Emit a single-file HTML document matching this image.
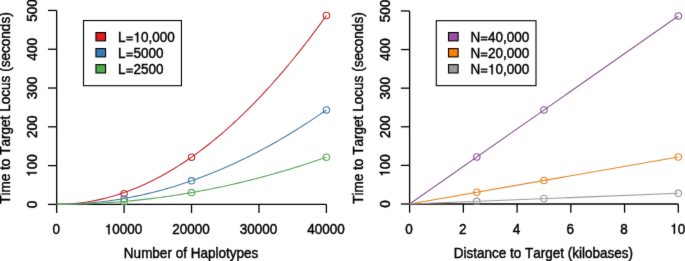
<!DOCTYPE html>
<html><head><meta charset="utf-8"><style>
html,body{margin:0;padding:0;background:#fff;}
svg{display:block;will-change:transform;}
.t{font-family:"Liberation Sans",sans-serif;font-size:13.5px;font-kerning:none;fill:#000;stroke:#000;stroke-width:0.42px;}
.o{fill:#000;stroke:#000;stroke-width:0.42px;}
</style></head><body>
<svg width="685" height="261" viewBox="0 0 685 261">
<defs><filter id="bl" x="0" y="0" width="685" height="261" filterUnits="userSpaceOnUse" color-interpolation-filters="sRGB"><feConvolveMatrix order="3" kernelMatrix="0.02 0.07 0.02 0.07 1.0 0.07 0.02 0.07 0.02" edgeMode="duplicate" preserveAlpha="true"/></filter></defs>
<rect width="685" height="261" fill="#fff"/>
<g filter="url(#bl)"><rect width="685" height="261" fill="#fff"/>
<g stroke="#000" stroke-width="1.3" fill="none">
<line x1="56.65" y1="10.45" x2="56.65" y2="204.4" />
<line x1="47.95" y1="204.40" x2="56.65" y2="204.40" />
<line x1="47.95" y1="165.61" x2="56.65" y2="165.61" />
<line x1="47.95" y1="126.82" x2="56.65" y2="126.82" />
<line x1="47.95" y1="88.03" x2="56.65" y2="88.03" />
<line x1="47.95" y1="49.24" x2="56.65" y2="49.24" />
<line x1="47.95" y1="10.45" x2="56.65" y2="10.45" />
<line x1="56.65" y1="204.4" x2="326.4" y2="204.4" />
<line x1="56.65" y1="204.4" x2="56.65" y2="213.1" />
<line x1="124.09" y1="204.4" x2="124.09" y2="213.1" />
<line x1="191.53" y1="204.4" x2="191.53" y2="213.1" />
<line x1="258.96" y1="204.4" x2="258.96" y2="213.1" />
<line x1="326.40" y1="204.4" x2="326.40" y2="213.1" />
</g>
<g transform="translate(36.65,204.40) rotate(-90) scale(1.0000,1.0440)"><text class="t" x="-3.754" y="0">0</text></g>
<g transform="translate(36.65,165.61) rotate(-90) scale(1.0000,1.0440)"><text class="t" x="-3.754" y="0">00</text><path class="o" d="M-6.578,0.000 L-7.766,0.000 L-7.766,-6.899 L-9.831,-6.899 L-9.831,-7.776 C-8.360,-7.951 -7.901,-8.181 -7.563,-9.572 L-6.578,-9.572 Z"/></g>
<g transform="translate(36.65,126.82) rotate(-90) scale(1.0000,1.0440)"><text class="t" x="-11.262" y="0">200</text></g>
<g transform="translate(36.65,88.03) rotate(-90) scale(1.0000,1.0440)"><text class="t" x="-11.262" y="0">300</text></g>
<g transform="translate(36.65,49.24) rotate(-90) scale(1.0000,1.0440)"><text class="t" x="-11.262" y="0">400</text></g>
<g transform="translate(36.65,10.45) rotate(-90) scale(1.0000,1.0440)"><text class="t" x="-11.262" y="0">500</text></g>
<g transform="translate(56.15,234.20) scale(1.0000,1.0440)"><text class="t" x="-3.754" y="0">0</text></g>
<g transform="translate(123.59,234.20) scale(1.0000,1.0440)"><text class="t" x="-11.262" y="0">0000</text><path class="o" d="M-14.086,0.000 L-15.274,0.000 L-15.274,-6.899 L-17.339,-6.899 L-17.339,-7.776 C-15.868,-7.951 -15.409,-8.181 -15.071,-9.572 L-14.086,-9.572 Z"/></g>
<g transform="translate(191.03,234.20) scale(1.0000,1.0440)"><text class="t" x="-18.770" y="0">20000</text></g>
<g transform="translate(258.46,234.20) scale(1.0000,1.0440)"><text class="t" x="-18.770" y="0">30000</text></g>
<g transform="translate(325.90,234.20) scale(1.0000,1.0440)"><text class="t" x="-18.770" y="0">40000</text></g>
<g transform="translate(191.02,258.20) scale(1.0000,1.0440)"><text class="t" x="-67.157" y="0">Number of Haplotypes</text></g>
<g transform="translate(10.35,108.00) rotate(-90) scale(1.0060,1.0440)"><text class="t" x="-95.288" y="0">Time to Target Locus (seconds)</text></g>
<g stroke="#000" stroke-width="1.3" fill="none">
<line x1="409.6" y1="10.95" x2="409.6" y2="204.0" />
<line x1="400.90000000000003" y1="204.00" x2="409.6" y2="204.00" />
<line x1="400.90000000000003" y1="165.39" x2="409.6" y2="165.39" />
<line x1="400.90000000000003" y1="126.78" x2="409.6" y2="126.78" />
<line x1="400.90000000000003" y1="88.17" x2="409.6" y2="88.17" />
<line x1="400.90000000000003" y1="49.56" x2="409.6" y2="49.56" />
<line x1="400.90000000000003" y1="10.95" x2="409.6" y2="10.95" />
<line x1="409.6" y1="204.0" x2="678.3" y2="204.0" />
<line x1="409.60" y1="204.0" x2="409.60" y2="212.7" />
<line x1="463.34" y1="204.0" x2="463.34" y2="212.7" />
<line x1="517.08" y1="204.0" x2="517.08" y2="212.7" />
<line x1="570.82" y1="204.0" x2="570.82" y2="212.7" />
<line x1="624.56" y1="204.0" x2="624.56" y2="212.7" />
<line x1="678.30" y1="204.0" x2="678.30" y2="212.7" />
</g>
<g transform="translate(389.60,204.00) rotate(-90) scale(1.0000,1.0440)"><text class="t" x="-3.754" y="0">0</text></g>
<g transform="translate(389.60,165.39) rotate(-90) scale(1.0000,1.0440)"><text class="t" x="-3.754" y="0">00</text><path class="o" d="M-6.578,0.000 L-7.766,0.000 L-7.766,-6.899 L-9.831,-6.899 L-9.831,-7.776 C-8.360,-7.951 -7.901,-8.181 -7.563,-9.572 L-6.578,-9.572 Z"/></g>
<g transform="translate(389.60,126.78) rotate(-90) scale(1.0000,1.0440)"><text class="t" x="-11.262" y="0">200</text></g>
<g transform="translate(389.60,88.17) rotate(-90) scale(1.0000,1.0440)"><text class="t" x="-11.262" y="0">300</text></g>
<g transform="translate(389.60,49.56) rotate(-90) scale(1.0000,1.0440)"><text class="t" x="-11.262" y="0">400</text></g>
<g transform="translate(389.60,10.95) rotate(-90) scale(1.0000,1.0440)"><text class="t" x="-11.262" y="0">500</text></g>
<g transform="translate(409.10,233.80) scale(1.0000,1.0440)"><text class="t" x="-3.754" y="0">0</text></g>
<g transform="translate(462.84,233.80) scale(1.0000,1.0440)"><text class="t" x="-3.754" y="0">2</text></g>
<g transform="translate(516.58,233.80) scale(1.0000,1.0440)"><text class="t" x="-3.754" y="0">4</text></g>
<g transform="translate(570.32,233.80) scale(1.0000,1.0440)"><text class="t" x="-3.754" y="0">6</text></g>
<g transform="translate(624.06,233.80) scale(1.0000,1.0440)"><text class="t" x="-3.754" y="0">8</text></g>
<g transform="translate(677.80,233.80) scale(1.0000,1.0440)"><text class="t" x="0.000" y="0">0</text><path class="o" d="M-2.824,0.000 L-4.012,0.000 L-4.012,-6.899 L-6.077,-6.899 L-6.077,-7.776 C-4.606,-7.951 -4.147,-8.181 -3.809,-9.572 L-2.824,-9.572 Z"/></g>
<g transform="translate(543.45,257.80) scale(1.0000,1.0440)"><text class="t" x="-89.662" y="0">Distance to Target (kilobases)</text></g>
<g transform="translate(363.30,108.00) rotate(-90) scale(1.0060,1.0440)"><text class="t" x="-95.288" y="0">Time to Target Locus (seconds)</text></g>
<g stroke-width="1.1" fill="none">
<polyline points="56.65,204.40 58.90,204.39 61.15,204.35 63.39,204.28 65.64,204.19 67.89,204.07 70.14,203.93 72.39,203.76 74.63,203.56 76.88,203.34 79.13,203.09 81.38,202.81 83.62,202.51 85.87,202.18 88.12,201.83 90.37,201.45 92.62,201.04 94.86,200.61 97.11,200.15 99.36,199.66 101.61,199.15 103.86,198.61 106.10,198.05 108.35,197.46 110.60,196.84 112.85,196.20 115.10,195.53 117.34,194.84 119.59,194.12 121.84,193.37 124.09,192.59 126.34,191.79 128.58,190.97 130.83,190.11 133.08,189.23 135.33,188.33 137.57,187.40 139.82,186.44 142.07,185.46 144.32,184.45 146.57,183.41 148.81,182.35 151.06,181.26 153.31,180.14 155.56,179.00 157.81,177.83 160.05,176.64 162.30,175.42 164.55,174.17 166.80,172.90 169.05,171.60 171.29,170.28 173.54,168.93 175.79,167.55 178.04,166.15 180.29,164.72 182.53,163.26 184.78,161.78 187.03,160.27 189.28,158.73 191.53,157.17 193.77,155.59 196.02,153.97 198.27,152.33 200.52,150.67 202.76,148.97 205.01,147.26 207.26,145.51 209.51,143.74 211.76,141.94 214.00,140.12 216.25,138.27 218.50,136.39 220.75,134.49 223.00,132.56 225.24,130.61 227.49,128.63 229.74,126.62 231.99,124.59 234.24,122.53 236.48,120.44 238.73,118.33 240.98,116.19 243.23,114.03 245.47,111.84 247.72,109.62 249.97,107.38 252.22,105.11 254.47,102.81 256.71,100.49 258.96,98.14 261.21,95.77 263.46,93.36 265.71,90.94 267.95,88.48 270.20,86.00 272.45,83.50 274.70,80.97 276.95,78.41 279.19,75.82 281.44,73.21 283.69,70.58 285.94,67.91 288.19,65.23 290.43,62.51 292.68,59.77 294.93,57.00 297.18,54.21 299.43,51.39 301.67,48.54 303.92,45.67 306.17,42.77 308.42,39.84 310.66,36.89 312.91,33.91 315.16,30.91 317.41,27.88 319.66,24.82 321.90,21.74 324.15,18.63 326.40,15.49" stroke="#C1292B" fill="none" />
<circle cx="124.09" cy="193.66" r="3.2" stroke="#C1292B" fill="none" />
<circle cx="191.53" cy="157.17" r="3.2" stroke="#C1292B" fill="none" />
<circle cx="326.40" cy="15.49" r="3.2" stroke="#C1292B" fill="none" />
<polyline points="56.65,204.40 58.90,204.39 61.15,204.37 63.39,204.34 65.64,204.30 67.89,204.24 70.14,204.16 72.39,204.08 74.63,203.98 76.88,203.87 79.13,203.74 81.38,203.61 83.62,203.46 85.87,203.29 88.12,203.11 90.37,202.92 92.62,202.72 94.86,202.50 97.11,202.27 99.36,202.03 101.61,201.78 103.86,201.51 106.10,201.23 108.35,200.93 110.60,200.62 112.85,200.30 115.10,199.97 117.34,199.62 119.59,199.26 121.84,198.88 124.09,198.50 126.34,198.10 128.58,197.68 130.83,197.26 133.08,196.82 135.33,196.36 137.57,195.90 139.82,195.42 142.07,194.93 144.32,194.42 146.57,193.91 148.81,193.37 151.06,192.83 153.31,192.27 155.56,191.70 157.81,191.12 160.05,190.52 162.30,189.91 164.55,189.29 166.80,188.65 169.05,188.00 171.29,187.34 173.54,186.66 175.79,185.97 178.04,185.27 180.29,184.56 182.53,183.83 184.78,183.09 187.03,182.33 189.28,181.57 191.53,180.79 193.77,179.99 196.02,179.19 198.27,178.37 200.52,177.53 202.76,176.69 205.01,175.83 207.26,174.96 209.51,174.07 211.76,173.17 214.00,172.26 216.25,171.33 218.50,170.40 220.75,169.45 223.00,168.48 225.24,167.50 227.49,166.51 229.74,165.51 231.99,164.49 234.24,163.46 236.48,162.42 238.73,161.36 240.98,160.30 243.23,159.21 245.47,158.12 247.72,157.01 249.97,155.89 252.22,154.75 254.47,153.60 256.71,152.44 258.96,151.27 261.21,150.08 263.46,148.88 265.71,147.67 267.95,146.44 270.20,145.20 272.45,143.95 274.70,142.68 276.95,141.40 279.19,140.11 281.44,138.81 283.69,137.49 285.94,136.16 288.19,134.81 290.43,133.45 292.68,132.08 294.93,130.70 297.18,129.30 299.43,127.89 301.67,126.47 303.92,125.03 306.17,123.58 308.42,122.12 310.66,120.64 312.91,119.16 315.16,117.65 317.41,116.14 319.66,114.61 321.90,113.07 324.15,111.51 326.40,109.95" stroke="#457AA6" fill="none" />
<circle cx="124.09" cy="198.89" r="3.2" stroke="#457AA6" fill="none" />
<circle cx="191.53" cy="180.79" r="3.2" stroke="#457AA6" fill="none" />
<circle cx="326.40" cy="109.95" r="3.2" stroke="#457AA6" fill="none" />
<polyline points="56.65,204.40 58.90,204.40 61.15,204.39 63.39,204.37 65.64,204.35 67.89,204.32 70.14,204.28 72.39,204.24 74.63,204.19 76.88,204.13 79.13,204.07 81.38,204.00 83.62,203.93 85.87,203.85 88.12,203.76 90.37,203.66 92.62,203.56 94.86,203.45 97.11,203.34 99.36,203.22 101.61,203.09 103.86,202.95 106.10,202.81 108.35,202.67 110.60,202.51 112.85,202.35 115.10,202.18 117.34,202.01 119.59,201.83 121.84,201.64 124.09,201.45 126.34,201.25 128.58,201.04 130.83,200.83 133.08,200.61 135.33,200.38 137.57,200.15 139.82,199.91 142.07,199.66 144.32,199.41 146.57,199.15 148.81,198.89 151.06,198.61 153.31,198.34 155.56,198.05 157.81,197.76 160.05,197.46 162.30,197.16 164.55,196.84 166.80,196.53 169.05,196.20 171.29,195.87 173.54,195.53 175.79,195.19 178.04,194.84 180.29,194.48 182.53,194.12 184.78,193.74 187.03,193.37 189.28,192.98 191.53,192.59 193.77,192.20 196.02,191.79 198.27,191.38 200.52,190.97 202.76,190.54 205.01,190.11 207.26,189.68 209.51,189.23 211.76,188.79 214.00,188.33 216.25,187.87 218.50,187.40 220.75,186.92 223.00,186.44 225.24,185.95 227.49,185.46 229.74,184.96 231.99,184.45 234.24,183.93 236.48,183.41 238.73,182.88 240.98,182.35 243.23,181.81 245.47,181.26 247.72,180.70 249.97,180.14 252.22,179.58 254.47,179.00 256.71,178.42 258.96,177.83 261.21,177.24 263.46,176.64 265.71,176.03 267.95,175.42 270.20,174.80 272.45,174.17 274.70,173.54 276.95,172.90 279.19,172.26 281.44,171.60 283.69,170.94 285.94,170.28 288.19,169.61 290.43,168.93 292.68,168.24 294.93,167.55 297.18,166.85 299.43,166.15 301.67,165.43 303.92,164.72 306.17,163.99 308.42,163.26 310.66,162.52 312.91,161.78 315.16,161.03 317.41,160.27 319.66,159.50 321.90,158.73 324.15,157.96 326.40,157.17" stroke="#5BA559" fill="none" />
<circle cx="124.09" cy="201.72" r="3.2" stroke="#5BA559" fill="none" />
<circle cx="191.53" cy="192.59" r="3.2" stroke="#5BA559" fill="none" />
<circle cx="326.40" cy="157.17" r="3.2" stroke="#5BA559" fill="none" />
<polyline points="409.60,204.00 678.30,15.97" stroke="#8D5696" fill="none" />
<circle cx="476.77" cy="156.99" r="3.2" stroke="#8D5696" fill="none" />
<circle cx="543.95" cy="109.98" r="3.2" stroke="#8D5696" fill="none" />
<circle cx="678.30" cy="15.97" r="3.2" stroke="#8D5696" fill="none" />
<polyline points="409.60,204.00 678.30,156.99" stroke="#E58526" fill="none" />
<circle cx="476.77" cy="192.25" r="3.2" stroke="#E58526" fill="none" />
<circle cx="543.95" cy="180.50" r="3.2" stroke="#E58526" fill="none" />
<circle cx="678.30" cy="156.99" r="3.2" stroke="#E58526" fill="none" />
<polyline points="409.60,204.00 678.30,193.26" stroke="#999999" fill="none" />
<circle cx="476.77" cy="201.34" r="3.2" stroke="#999999" fill="none" />
<circle cx="543.95" cy="198.52" r="3.2" stroke="#999999" fill="none" />
<circle cx="678.30" cy="193.31" r="3.2" stroke="#999999" fill="none" />
</g>
<rect x="83.5" y="20.55" width="97.95" height="65.15" fill="white" stroke="#000" stroke-width="1.1"/>
<rect x="95.95" y="32.55" width="9.6" height="8.3" fill="#E41A1C" stroke="#000" stroke-width="1.1"/>
<g transform="translate(118.10,42.20) scale(1.0000,1.0440)"><text class="t" x="0.000" y="0">L</text><text class="t" x="22.900" y="0">0,000</text><path class="o" d="M8.386,-1.823 L14.596,-1.823 L14.596,-2.767 L8.386,-2.767 Z M8.386,-4.253 L14.596,-4.253 L14.596,-5.197 L8.386,-5.197 Z M20.076,0.000 L18.888,0.000 L18.888,-6.899 L16.823,-6.899 L16.823,-7.776 C18.294,-7.951 18.753,-8.181 19.091,-9.572 L20.076,-9.572 Z"/></g>
<rect x="95.95" y="48.60" width="9.6" height="8.3" fill="#377EB8" stroke="#000" stroke-width="1.1"/>
<g transform="translate(118.10,58.25) scale(1.0000,1.0440)"><text class="t" x="0.000" y="0">L</text><text class="t" x="15.392" y="0">5000</text><path class="o" d="M8.386,-1.823 L14.596,-1.823 L14.596,-2.767 L8.386,-2.767 Z M8.386,-4.253 L14.596,-4.253 L14.596,-5.197 L8.386,-5.197 Z"/></g>
<rect x="95.95" y="64.65" width="9.6" height="8.3" fill="#4DAF4A" stroke="#000" stroke-width="1.1"/>
<g transform="translate(118.10,74.30) scale(1.0000,1.0440)"><text class="t" x="0.000" y="0">L</text><text class="t" x="15.392" y="0">2500</text><path class="o" d="M8.386,-1.823 L14.596,-1.823 L14.596,-2.767 L8.386,-2.767 Z M8.386,-4.253 L14.596,-4.253 L14.596,-5.197 L8.386,-5.197 Z"/></g>
<rect x="436.3" y="20.7" width="99.70" height="64.95" fill="white" stroke="#000" stroke-width="1.1"/>
<rect x="448.5" y="32.55" width="9.6" height="8.3" fill="#984EA3" stroke="#000" stroke-width="1.1"/>
<g transform="translate(470.40,42.20) scale(1.0000,1.0440)"><text class="t" x="0.000" y="0">N</text><text class="t" x="17.633" y="0">40,000</text><path class="o" d="M10.627,-1.823 L16.837,-1.823 L16.837,-2.767 L10.627,-2.767 Z M10.627,-4.253 L16.837,-4.253 L16.837,-5.197 L10.627,-5.197 Z"/></g>
<rect x="448.5" y="48.60" width="9.6" height="8.3" fill="#FF7F00" stroke="#000" stroke-width="1.1"/>
<g transform="translate(470.40,58.25) scale(1.0000,1.0440)"><text class="t" x="0.000" y="0">N</text><text class="t" x="17.633" y="0">20,000</text><path class="o" d="M10.627,-1.823 L16.837,-1.823 L16.837,-2.767 L10.627,-2.767 Z M10.627,-4.253 L16.837,-4.253 L16.837,-5.197 L10.627,-5.197 Z"/></g>
<rect x="448.5" y="64.65" width="9.6" height="8.3" fill="#999999" stroke="#000" stroke-width="1.1"/>
<g transform="translate(470.40,74.30) scale(1.0000,1.0440)"><text class="t" x="0.000" y="0">N</text><text class="t" x="25.141" y="0">0,000</text><path class="o" d="M10.627,-1.823 L16.837,-1.823 L16.837,-2.767 L10.627,-2.767 Z M10.627,-4.253 L16.837,-4.253 L16.837,-5.197 L10.627,-5.197 Z M22.318,0.000 L21.130,0.000 L21.130,-6.899 L19.064,-6.899 L19.064,-7.776 C20.536,-7.951 20.995,-8.181 21.332,-9.572 L22.318,-9.572 Z"/></g>
</g>
</svg>
</body></html>
